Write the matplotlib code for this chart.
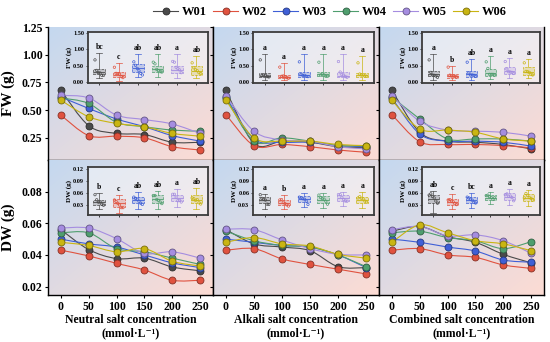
import numpy as np
import matplotlib.pyplot as plt
from matplotlib.path import Path
from matplotlib.patches import PathPatch
from matplotlib.lines import Line2D
from matplotlib.colors import to_rgb

plt.rcParams['font.family'] = ['Liberation Serif', 'DejaVu Serif']
plt.rcParams['font.weight'] = 'bold'
plt.rcParams['axes.labelweight'] = 'bold'

CONC = [0, 50, 100, 150, 200, 250]
VARIETIES = ['W01', 'W02', 'W03', 'W04', 'W05', 'W06']
COLORS = ['#4a4a4a', '#e0523f', '#3f5fd6', '#4f9e6e', '#a58de0', '#c9b512']

# main panels: one row per variety, values at each concentration
FW_NEUTRAL = [[0.68, 0.36, 0.29, 0.28, 0.21, 0.21],
              [0.455, 0.27, 0.265, 0.25, 0.17, 0.14],
              [0.62, 0.515, 0.42, 0.35, 0.27, 0.22],
              [0.61, 0.56, 0.39, 0.35, 0.32, 0.31],
              [0.633, 0.61, 0.455, 0.415, 0.375, 0.29],
              [0.59, 0.44, 0.38, 0.35, 0.29, 0.265]]
FW_ALKALI = [[0.68, 0.20, 0.22, 0.21, 0.17, 0.16],
             [0.46, 0.18, 0.19, 0.17, 0.14, 0.12],
             [0.62, 0.24, 0.21, 0.21, 0.18, 0.17],
             [0.61, 0.22, 0.25, 0.22, 0.18, 0.18],
             [0.63, 0.31, 0.23, 0.22, 0.17, 0.15],
             [0.59, 0.25, 0.22, 0.22, 0.19, 0.18]]
FW_COMBINED = [[0.68, 0.30, 0.22, 0.21, 0.19, 0.15],
               [0.46, 0.215, 0.19, 0.19, 0.18, 0.16],
               [0.61, 0.285, 0.22, 0.22, 0.21, 0.175],
               [0.62, 0.42, 0.24, 0.24, 0.24, 0.22],
               [0.63, 0.40, 0.32, 0.31, 0.30, 0.265],
               [0.59, 0.33, 0.32, 0.30, 0.24, 0.22]]
DW_NEUTRAL = [[0.056, 0.0434, 0.0377, 0.038, 0.0324, 0.030],
              [0.043, 0.0394, 0.0347, 0.0305, 0.024, 0.024],
              [0.050, 0.047, 0.045, 0.040, 0.035, 0.032],
              [0.054, 0.054, 0.044, 0.042, 0.038, 0.034],
              [0.057, 0.057, 0.0503, 0.041, 0.042, 0.038],
              [0.048, 0.046, 0.042, 0.044, 0.036, 0.033]]
DW_ALKALI = [[0.056, 0.047, 0.045, 0.0427, 0.0326, 0.032],
             [0.043, 0.044, 0.0375, 0.034, 0.031, 0.028],
             [0.050, 0.048, 0.046, 0.045, 0.040, 0.032],
             [0.055, 0.049, 0.046, 0.045, 0.040, 0.0326],
             [0.0563, 0.056, 0.0495, 0.044, 0.0404, 0.040],
             [0.048, 0.051, 0.047, 0.0457, 0.0404, 0.038]]
DW_COMBINED = [[0.055, 0.058, 0.0516, 0.048, 0.0404, 0.035],
               [0.043, 0.044, 0.040, 0.0385, 0.0337, 0.0315],
               [0.050, 0.048, 0.045, 0.0425, 0.0368, 0.0354],
               [0.054, 0.055, 0.051, 0.049, 0.044, 0.0484],
               [0.056, 0.058, 0.052, 0.0527, 0.049, 0.041],
               [0.048, 0.059, 0.054, 0.049, 0.047, 0.0427]]

# inset box plots: (q1, median, q3, whisker low, whisker high) per variety
FW_NEUTRAL_BOX = [(0.25, 0.32, 0.40, 0.12, 0.90), (0.15, 0.22, 0.30, 0.05, 0.60),
                  (0.30, 0.42, 0.55, 0.15, 0.85), (0.30, 0.40, 0.50, 0.15, 0.85),
                  (0.28, 0.36, 0.48, 0.12, 0.85), (0.22, 0.35, 0.50, 0.12, 0.80)]
FW_ALKALI_BOX = [(0.15, 0.20, 0.28, 0.08, 0.85), (0.12, 0.17, 0.22, 0.06, 0.60),
                 (0.17, 0.22, 0.30, 0.08, 0.85), (0.18, 0.25, 0.32, 0.08, 0.85),
                 (0.15, 0.20, 0.30, 0.07, 0.85), (0.17, 0.22, 0.28, 0.08, 0.80)]
FW_COMBINED_BOX = [(0.18, 0.25, 0.35, 0.08, 0.85), (0.12, 0.18, 0.25, 0.06, 0.50),
                   (0.15, 0.25, 0.35, 0.06, 0.70), (0.20, 0.28, 0.40, 0.10, 0.80),
                   (0.25, 0.33, 0.45, 0.12, 0.75), (0.22, 0.30, 0.45, 0.12, 0.70)]
DW_NEUTRAL_BOX = [(0.030, 0.037, 0.044, 0.020, 0.060), (0.025, 0.035, 0.045, 0.010, 0.055),
                  (0.035, 0.042, 0.050, 0.020, 0.062), (0.035, 0.045, 0.055, 0.020, 0.065),
                  (0.040, 0.047, 0.055, 0.025, 0.070), (0.035, 0.042, 0.055, 0.020, 0.072)]
DW_ALKALI_BOX = [(0.035, 0.042, 0.050, 0.020, 0.058), (0.030, 0.035, 0.042, 0.020, 0.055),
                 (0.038, 0.045, 0.052, 0.025, 0.060), (0.035, 0.043, 0.052, 0.022, 0.060),
                 (0.040, 0.047, 0.055, 0.028, 0.062), (0.035, 0.042, 0.050, 0.022, 0.062)]
DW_COMBINED_BOX = [(0.035, 0.045, 0.055, 0.010, 0.065), (0.030, 0.037, 0.045, 0.020, 0.058),
                   (0.035, 0.042, 0.050, 0.022, 0.060), (0.042, 0.048, 0.055, 0.032, 0.062),
                   (0.043, 0.050, 0.060, 0.030, 0.070), (0.040, 0.047, 0.058, 0.028, 0.068)]

FW_NEUTRAL_LET = ['bc', 'c', 'ab', 'ab', 'a', 'ab']
FW_ALKALI_LET = ['a', 'a', 'a', 'a', 'a', 'a']
FW_COMBINED_LET = ['a', 'b', 'ab', 'a', 'a', 'a']
DW_NEUTRAL_LET = ['b', 'c', 'ab', 'ab', 'a', 'ab']
DW_ALKALI_LET = ['a', 'b', 'a', 'a', 'a', 'a']
DW_COMBINED_LET = ['ab', 'c', 'bc', 'a', 'a', 'a']

XLABELS = ['Neutral salt concentration', 'Alkali salt concentration',
           'Combined salt concentration']


def smooth_path(x, y):
    pts = np.column_stack([x, y]).astype(float)
    n = len(pts)
    verts, codes = [pts[0]], [Path.MOVETO]
    for i in range(n - 1):
        p0, p1 = pts[max(i - 1, 0)], pts[i]
        p2, p3 = pts[i + 1], pts[min(i + 2, n - 1)]
        verts += [p1 + (p2 - p0) / 6, p2 - (p3 - p1) / 6, p2]
        codes += [Path.CURVE4] * 3
    return Path(verts, codes)


def darker(c, f=0.6):
    return tuple(v * f for v in to_rgb(c))


def background(ax):
    blue = np.array([0.77, 0.85, 0.94])
    pink = np.array([0.99, 0.86, 0.83])
    gx, gy = np.meshgrid(np.linspace(0, 1, 60), np.linspace(0, 1, 60))
    t = np.clip((gx + gy) / 2, 0, 1)[..., None]
    img = blue * (1 - t) + pink * t
    ax.imshow(img, extent=(0, 1, 0, 1), transform=ax.transAxes,
              aspect='auto', zorder=0, interpolation='bilinear')


def draw_inset(ax, rect, box, letters, means, fw):
    ins = ax.inset_axes(rect)
    ins.set_facecolor((1, 1, 1, 0.45))
    for s in ins.spines.values():
        s.set_linewidth(1.3)
        s.set_color('#3c3c3c')
    stats = [dict(q1=b[0], med=b[1], q3=b[2], whislo=b[3], whishi=b[4], fliers=[])
             for b in box]
    bp = ins.bxp(stats, positions=range(1, 7), widths=0.6, patch_artist=True,
                 showcaps=True)
    for i, c in enumerate(COLORS):
        bp['boxes'][i].set(facecolor=to_rgb(c) + (0.25,), edgecolor=c, lw=0.5,
                           linestyle='--')
        bp['medians'][i].set(color=c, lw=0.6)
        for w in bp['whiskers'][2 * i:2 * i + 2] + bp['caps'][2 * i:2 * i + 2]:
            w.set(color=c, lw=0.5)
        offs = np.linspace(-0.22, 0.22, len(means[i]))
        ins.scatter(i + 1 + offs, means[i], s=3, facecolor='none',
                    edgecolor=c, lw=0.5, zorder=3)
        top = box[i][4]
        span = 1.5 if fw else 0.12
        ins.text(i + 1, top + span * 0.04, letters[i], ha='center', va='bottom',
                 fontsize=5.5, fontweight='bold')
    ins.set_xlim(0.4, 6.6)
    ins.set_xticks(range(1, 7))
    ins.set_xticklabels([])
    if fw:
        ins.set_ylim(-0.02, 1.52)
        ins.set_yticks([0, 0.5, 1.0, 1.5])
        ins.set_yticklabels(['0.00', '0.50', '1.00', '1.50'])
        ins.set_ylabel('FW (g)', fontsize=5, labelpad=1)
    else:
        ins.set_ylim(0.005, 0.125)
        ins.set_yticks([0.03, 0.06, 0.09, 0.12])
        ins.set_yticklabels(['0.03', '0.06', '0.09', '0.12'])
        ins.set_ylabel('DW (g)', fontsize=5, labelpad=1)
    ins.tick_params(labelsize=4.5, length=1.5, width=0.5, pad=1)


fig = plt.figure(figsize=(5.5, 3.42), dpi=100)
fig.patch.set_facecolor('white')

lefts = [48 / 550, 213 / 550, 379 / 550]
widths = [165 / 550, 166 / 550, 165 / 550]
top_b, top_h = 182 / 342, 133 / 342
bot_b, bot_h = 47 / 342, 135 / 342

fw_sets = [FW_NEUTRAL, FW_ALKALI, FW_COMBINED]
dw_sets = [DW_NEUTRAL, DW_ALKALI, DW_COMBINED]
fw_boxes = [FW_NEUTRAL_BOX, FW_ALKALI_BOX, FW_COMBINED_BOX]
dw_boxes = [DW_NEUTRAL_BOX, DW_ALKALI_BOX, DW_COMBINED_BOX]
fw_lets = [FW_NEUTRAL_LET, FW_ALKALI_LET, FW_COMBINED_LET]
dw_lets = [DW_NEUTRAL_LET, DW_ALKALI_LET, DW_COMBINED_LET]
inset_x = [(0.24, 0.73), (0.24, 0.73), (0.26, 0.715)]

for col in range(3):
    for row in range(2):
        if row == 0:
            ax = fig.add_axes([lefts[col], top_b, widths[col], top_h])
            data, box, lets = fw_sets[col], fw_boxes[col], fw_lets[col]
        else:
            ax = fig.add_axes([lefts[col], bot_b, widths[col], bot_h])
            data, box, lets = dw_sets[col], dw_boxes[col], dw_lets[col]
        background(ax)
        for i, c in enumerate(COLORS):
            ax.add_patch(PathPatch(smooth_path(CONC, data[i]), fill=False,
                                   edgecolor=c, lw=0.8, zorder=2))
            ax.plot(CONC, data[i], 'o', ms=5, mfc=c, mec=darker(c), mew=0.6,
                    zorder=4)
        ax.set_xlim(-23, 273)
        ax.set_xticks(CONC)
        for s in ax.spines.values():
            s.set_linewidth(1.0)
        ax.spines['top'].set_visible(False)
        ax.tick_params(labelsize=8.5, length=2.5, width=0.8, pad=1.5)
        if row == 0:
            ax.set_ylim(0.05, 1.25)
            ax.set_yticks([0.25, 0.5, 0.75, 1.0, 1.25])
            ax.set_yticklabels(['0.25', '0.50', '0.75', '1.00', '1.25'])
            ax.set_xticklabels([])
            if col == 0:
                ax.set_ylabel('FW (g)', fontsize=11)
                ax.yaxis.set_label_coords(-0.2, 0.5)
            draw_inset(ax, [inset_x[col][0], 0.58, inset_x[col][1], 0.38],
                       box, lets, data, True)
        else:
            ax.set_ylim(0.0147, 0.10)
            ax.set_yticks([0.02, 0.04, 0.06, 0.08])
            ax.set_yticklabels(['0.02', '0.04', '0.06', '0.08'])
            ax.set_xlabel(XLABELS[col] + '\n(mmol\u00b7L\u207b\u00b9)', fontsize=8.5,
                          labelpad=1, linespacing=1.15)
            if col == 0:
                ax.set_ylabel('DW (g)', fontsize=11)
                ax.yaxis.set_label_coords(-0.2, 0.5)
            draw_inset(ax, [inset_x[col][0], 0.59, inset_x[col][1], 0.36],
                       box, lets, data, False)
        if col > 0:
            ax.set_yticklabels([])

handles = [Line2D([], [], color=c, marker='o', ms=5, mfc=c, mec=darker(c),
                  mew=0.6, lw=0.8) for c in COLORS]
fig.legend(handles, VARIETIES, loc='upper center', bbox_to_anchor=(0.6, 1.015),
           ncol=6, frameon=False, fontsize=9, handlelength=2.0,
           columnspacing=0.5, handletextpad=0.3)

fig.savefig('out.png', dpi=100)
